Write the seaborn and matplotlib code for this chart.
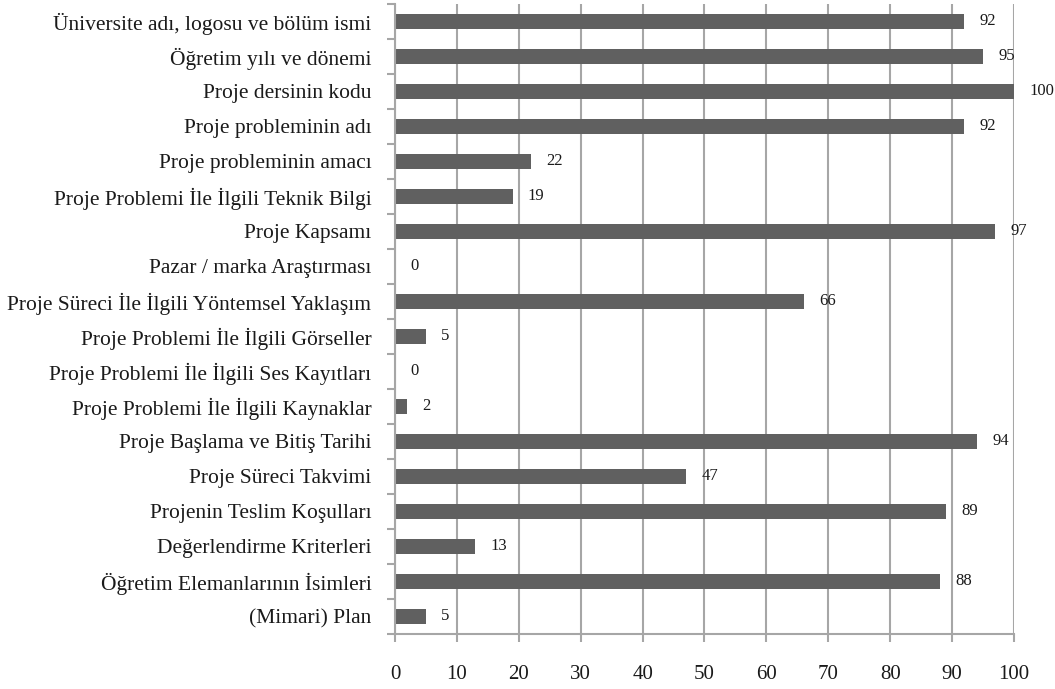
import matplotlib
matplotlib.use('Agg')
import matplotlib.pyplot as plt
import seaborn as sns
import pandas as pd
import numpy as np

categories = [
    'Üniversite adı, logosu ve bölüm ismi',
    'Öğretim yılı ve dönemi',
    'Proje dersinin kodu',
    'Proje probleminin adı',
    'Proje probleminin amacı',
    'Proje Problemi İle İlgili Teknik Bilgi',
    'Proje Kapsamı',
    'Pazar / marka Araştırması',
    'Proje Süreci İle İlgili Yöntemsel Yaklaşım',
    'Proje Problemi İle İlgili Görseller',
    'Proje Problemi İle İlgili Ses Kayıtları',
    'Proje Problemi İle İlgili Kaynaklar',
    'Proje Başlama ve Bitiş Tarihi',
    'Proje Süreci Takvimi',
    'Projenin Teslim Koşulları',
    'Değerlendirme Kriterleri',
    'Öğretim Elemanlarının İsimleri',
    '(Mimari) Plan',
]
values = [92, 95, 100, 92, 22, 19, 97, 0, 66, 5, 0, 2, 94, 47, 89, 13, 88, 5]
x_ticks = [0, 10, 20, 30, 40, 50, 60, 70, 80, 90, 100]

df = pd.DataFrame({'item': categories, 'pct': values})

sns.set_style('white')
plt.rcParams['font.family'] = ['Liberation Serif', 'DejaVu Serif']

fig = plt.figure(figsize=(10.55, 6.89), dpi=100)
ax = fig.add_axes([0.3744, 0.0799, 0.5867, 0.9143])

grid_c = '#a6a6a6'
for x in x_ticks:
    ax.axvline(x, color=grid_c, lw=1.5, zorder=0)

sns.barplot(data=df, y='item', x='pct', orient='h', color='#606060',
            width=0.42, saturation=1, linewidth=0, ax=ax, zorder=2)

# value labels to the right of each bar
for i, v in enumerate(values):
    ax.annotate(str(v), (v, i), xytext=(11, 0), textcoords='offset points',
                va='center', ha='left', fontsize=12, color='#1a1a1a')

ax.set_xlim(0, 100)
ax.set_ylim(len(categories) - 0.5, -0.5)
ax.set_xticks(x_ticks)
ax.set_xlabel('')
ax.set_ylabel('')

for side in ['top', 'right']:
    ax.spines[side].set_visible(False)
for side in ['left', 'bottom']:
    ax.spines[side].set_color(grid_c)
    ax.spines[side].set_linewidth(1.5)

# tick marks between categories, labels centred on the bars
ax.set_yticks(np.arange(-0.5, len(categories), 1), minor=True)
ax.tick_params(axis='y', which='major', length=0, pad=17, labelsize=15.5,
               labelcolor='#1a1a1a')
ax.tick_params(axis='y', which='minor', length=6, width=1.5, color=grid_c, left=True)
ax.tick_params(axis='x', which='major', length=6, width=1.5, color=grid_c,
               bottom=True, pad=16, labelsize=15, labelcolor='#1a1a1a')

fig.savefig('out.png', dpi=100)
